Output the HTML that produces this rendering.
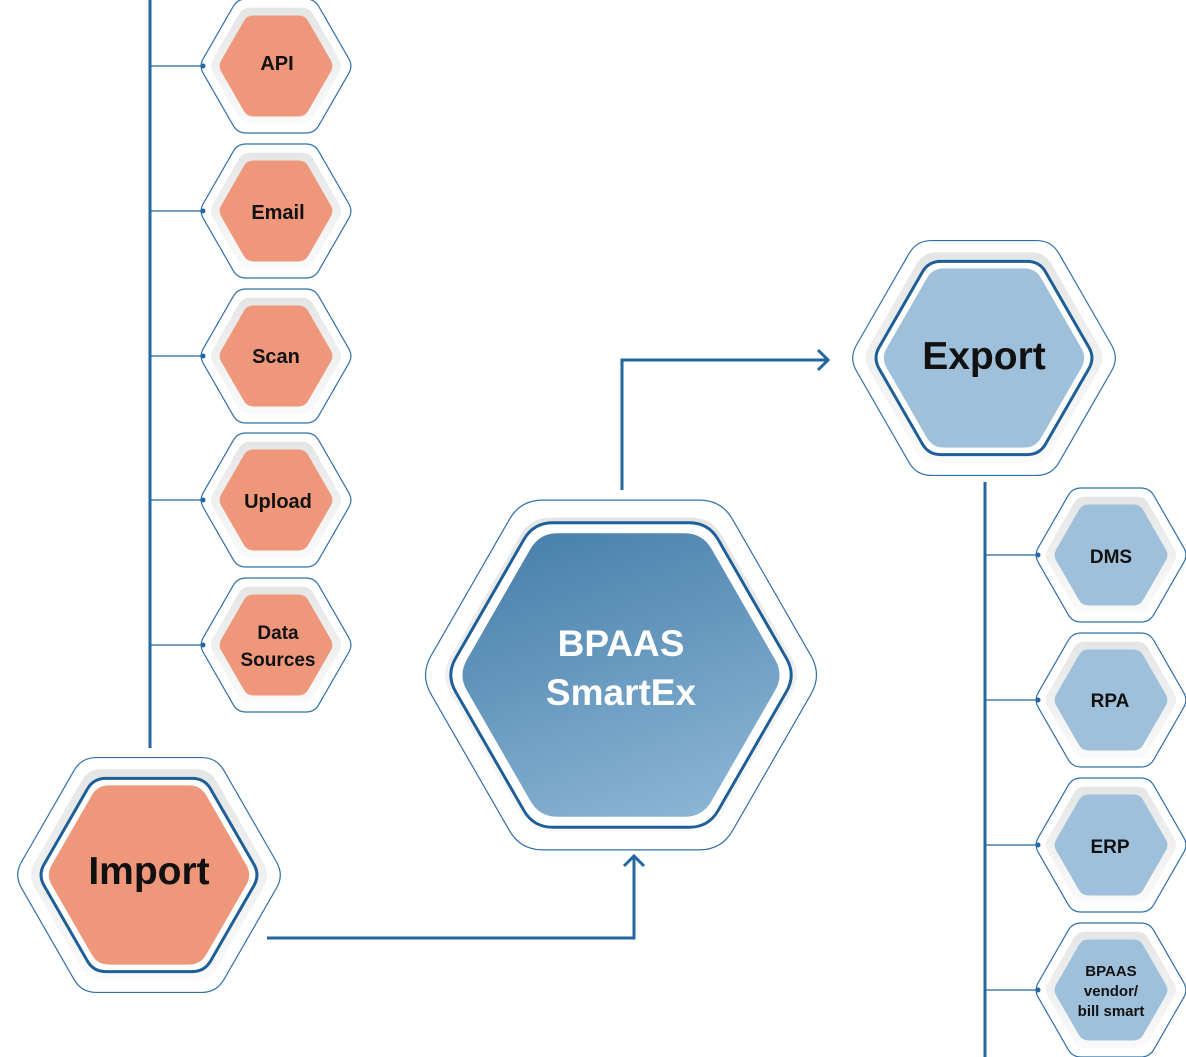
<!DOCTYPE html>
<html><head><meta charset="utf-8"><style>
html,body{margin:0;padding:0;background:#fff;}
svg{display:block;}
text{font-family:"Liberation Sans",sans-serif;font-weight:bold;text-anchor:middle;}
</style></head><body>
<svg id="s" width="1186" height="1057" viewBox="0 0 1186 1057" xmlns="http://www.w3.org/2000/svg">
<defs>
<linearGradient id="gb" x1="0.3" y1="0" x2="0.7" y2="1"><stop offset="0" stop-color="#4a82ad"/><stop offset="1" stop-color="#8ab4d4"/></linearGradient>
<linearGradient id="gr" x1="0" y1="0" x2="0" y2="1"><stop offset="0" stop-color="#e4e5e5"/><stop offset="1" stop-color="#fafafa"/></linearGradient>
</defs>
<g id="hex"></g>
<g stroke="#2466a0" fill="none">
<line x1="150" y1="0" x2="150" y2="748" stroke-width="3"/>
<line x1="985" y1="482" x2="985" y2="1057" stroke-width="3"/>
<g stroke-width="1.2">
<line x1="150" y1="66" x2="202" y2="66"/><line x1="150" y1="211" x2="202" y2="211"/><line x1="150" y1="356" x2="202" y2="356"/><line x1="150" y1="500" x2="202" y2="500"/><line x1="150" y1="645" x2="202" y2="645"/>
<line x1="985" y1="555" x2="1037" y2="555"/><line x1="985" y1="700" x2="1037" y2="700"/><line x1="985" y1="845" x2="1037" y2="845"/><line x1="985" y1="990" x2="1037" y2="990"/>
</g>
<polyline points="267,938 634,938 634,858" stroke-width="3"/>
<polyline points="624,866 634,856 644,866" stroke-width="3"/>
<polyline points="622,490 622,360 826,360" stroke-width="3"/>
<polyline points="818,350 828,360 818,370" stroke-width="3"/>
</g>
<g fill="#2466a0">
<circle cx="203" cy="66" r="2.5"/><circle cx="203" cy="211" r="2.5"/><circle cx="203" cy="356" r="2.5"/><circle cx="203" cy="500" r="2.5"/><circle cx="203" cy="645" r="2.5"/>
<circle cx="1038" cy="555" r="2.5"/><circle cx="1038" cy="700" r="2.5"/><circle cx="1038" cy="845" r="2.5"/><circle cx="1038" cy="990" r="2.5"/>
</g>
<g fill="#111">
<text x="277" y="70" font-size="20">API</text>
<text x="278" y="219" font-size="20">Email</text>
<text x="276" y="363" font-size="20">Scan</text>
<text x="278" y="508" font-size="20">Upload</text>
<text x="278" y="639" font-size="19">Data</text>
<text x="278" y="666" font-size="19">Sources</text>
<text x="1111" y="563" font-size="19">DMS</text>
<text x="1110" y="707" font-size="19">RPA</text>
<text x="1110" y="853" font-size="19">ERP</text>
<text x="1111" y="976" font-size="15">BPAAS</text>
<text x="1111" y="996" font-size="15">vendor/</text>
<text x="1111" y="1016" font-size="15">bill smart</text>
<text x="984" y="369" font-size="39">Export</text>
<text x="149" y="884" font-size="39">Import</text>
<text x="621" y="656" font-size="37" fill="#fff">BPAAS</text>
<text x="621" y="705" font-size="37" fill="#fff">SmartEx</text>
</g>
</svg>
<script>
var g=document.getElementById('hex'),NS='http://www.w3.org/2000/svg';
function hx(cx,cy,R,fill,stroke,sw,rr){var h=R*0.87,p=[[cx-R,cy],[cx-R/2,cy-h],[cx+R/2,cy-h],[cx+R,cy],[cx+R/2,cy+h],[cx-R/2,cy+h]];
var r=rr||R*0.11,d='';
for(var i=0;i<6;i++){var a=p[(i+5)%6],b=p[i],c=p[(i+1)%6];
var l1=Math.hypot(b[0]-a[0],b[1]-a[1]),l2=Math.hypot(c[0]-b[0],c[1]-b[1]);
var s=[b[0]+(a[0]-b[0])*r/l1,b[1]+(a[1]-b[1])*r/l1],e=[b[0]+(c[0]-b[0])*r/l2,b[1]+(c[1]-b[1])*r/l2];
d+=(i?'L':'M')+s[0]+','+s[1]+'Q'+b[0]+','+b[1]+' '+e[0]+','+e[1];}
d+='Z';
var el=document.createElementNS(NS,'path');el.setAttribute('d',d);
el.setAttribute('fill',fill);el.setAttribute('stroke',stroke||'none');el.setAttribute('stroke-width',sw||0);g.appendChild(el);}
function small(cx,cy,c){hx(cx,cy,77,'#fff','#2f70a8',1.2);hx(cx,cy,67,'url(#gr)');hx(cx,cy,58,c);}
[66,211,356,500,645].forEach(y=>small(276,y,'#ee977b'));
[555,700,845,990].forEach(y=>small(1111,y,'#9fc0da'));
function big(cx,cy,R,dr,ir,c){hx(cx,cy,R,'#fff','#2f70a8',1.2);hx(cx,cy,R*0.9,'url(#gr)');hx(cx,cy,dr,'#fff','#1f5f99',3);hx(cx,cy,ir,c);}
big(984,358,135,111,103,'#9fc0da');
big(149,875,135,111,103,'#ee977b');
big(621,675,201,175,163,'url(#gb)');
</script>
</body></html>
